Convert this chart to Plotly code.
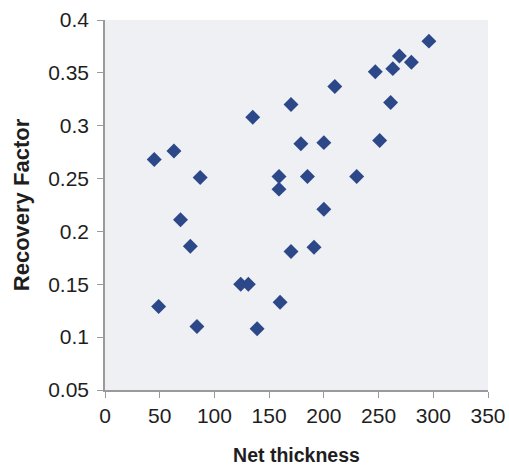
import plotly.graph_objects as go

net_thickness = [45, 63, 87, 69, 135, 296, 269, 280, 263, 247, 210, 170, 261, 179, 200, 251,
                 159, 159, 185, 230, 200, 78, 124, 131, 49, 84, 139, 170, 191, 160]
recovery_factor = [0.268, 0.276, 0.251, 0.211, 0.308, 0.380, 0.366, 0.360, 0.354, 0.351, 0.337,
                   0.320, 0.322, 0.283, 0.284, 0.286, 0.252, 0.240, 0.252, 0.252, 0.221, 0.186,
                   0.150, 0.150, 0.129, 0.110, 0.108, 0.181, 0.185, 0.133]

x_ticks = [0, 50, 100, 150, 200, 250, 300, 350]
y_ticks = [0.05, 0.1, 0.15, 0.2, 0.25, 0.3, 0.35, 0.4]
y_tick_labels = ["0.05", "0.1", "0.15", "0.2", "0.25", "0.3", "0.35", "0.4"]

fig = go.Figure(go.Scatter(
    x=net_thickness, y=recovery_factor, mode="markers",
    marker=dict(symbol="diamond", size=11.5, color="#2C4889", line=dict(width=0)),
    cliponaxis=False,
))

font = "Liberation Sans, Arial, sans-serif"
fig.update_layout(
    width=509, height=475,
    margin=dict(l=105, r=21, t=20, b=85, autoexpand=False),
    paper_bgcolor="white", plot_bgcolor="#EEF0F3",
    showlegend=False,
    font=dict(family=font, size=21, color="#1E1E1E"),
)
fig.update_xaxes(
    range=[0, 350], tickvals=x_ticks, showgrid=False, zeroline=False, automargin=False,
    showline=True, linecolor="#9A9A9A", linewidth=1.5,
    ticks="outside", ticklen=6, tickcolor="#9A9A9A",
    tickfont=dict(size=21),
    title=dict(text="<b>Net thickness</b>", font=dict(size=19.5), standoff=22),
)
fig.update_yaxes(
    range=[0.05, 0.4], tickvals=y_ticks, ticktext=y_tick_labels, showgrid=False, zeroline=False,
    automargin=False,
    showline=True, linecolor="#9A9A9A", linewidth=1.5,
    ticks="outside", ticklen=6, tickcolor="#9A9A9A",
    tickfont=dict(size=21), ticklabelstandoff=4,
    title=dict(text="<b>Recovery Factor</b>", font=dict(size=22), standoff=12),
)
fig.write_html(
    "out.html",
    config={"displayModeBar": False},
    post_script="document.body.style.margin='0';document.body.style.overflow='hidden';",
)
